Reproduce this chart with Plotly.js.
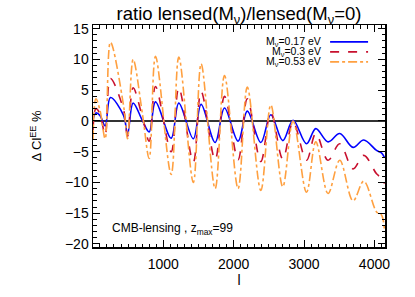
<!DOCTYPE html>
<html>
<head>
<meta charset="utf-8">
<script src="https://cdn.plot.ly/plotly-3.0.1.min.js"></script>
<style>html,body{margin:0;padding:0;background:#fff;}#chart{width:415px;height:297px;}</style>
</head>
<body>
<div id="chart"></div>
<script>
// multipole l (shared sampling at the read extrema)
const ell = [2, 43, 100, 175, 250, 436, 493, 572, 706, 800, 890, 1112, 1221, 1427, 1538, 1737, 1870, 2063, 2194, 2386, 2528, 2698, 2844, 3035, 3167, 3341, 3507, 3696, 3848, 4030, 4100, 4140];
// Delta Cl^EE % for each neutrino mass
const mnu017 = [0.2, 1.3, 0.9, -0.8, 3.8, 0.9, -2.2, 2.9, 0.0, -1.8, 3.1, -2.8, 2.9, -2.9, 2.7, -3.5, 2.1, -3.3, 1.6, -3.5, 1.0, -3.2, 0.1, -3.7, -1.25, -3.4, -2.05, -4.3, -3.1, -4.8, -5.2, -5.9];
const mnu030 = [-1.5, 2.0, 1.2, -2.3, 6.9, 1.8, -2.5, 5.4, 0.5, -3.3, 5.6, -5.0, 5.4, -6.7, 4.8, -6.3, 4.0, -6.3, 3.6, -6.6, 1.4, -6.2, -0.2, -6.4, -2.05, -6.4, -3.7, -7.8, -5.6, -8.6, -9.3, -10.2];
const mnu053 = [-3.0, 3.6, 1.8, -2.9, 12.8, 2.5, -2.9, 10.0, 1.0, -6.1, 10.5, -8.7, 10.4, -10.0, 9.3, -11.0, 7.4, -11.0, 5.5, -11.3, 2.6, -10.7, 0.0, -11.6, -3.4, -11.8, -6.4, -13.0, -9.8, -14.8, -15.3, -17.5];
const seriesNames = ['M<sub>ν</sub>=0.17 eV', 'M<sub>ν</sub>=0.3 eV', 'M<sub>ν</sub>=0.53 eV'];
const colors = ['#0000ff', '#c8102e', '#ffa040'];
const dashes = ['solid', 'dash', 'dashdot'];
const series = [mnu017, mnu030, mnu053];

const FONT = 'Liberation Sans, Arial, sans-serif';

const traces = series.map((ys, i) => ({
  x: ell, y: ys, type: 'scatter', mode: 'lines', name: seriesNames[i],
  line: {color: colors[i], dash: dashes[i], width: 1.6, shape: 'spline', smoothing: 1},
  showlegend: false, hoverinfo: 'skip'
}));

// custom legend (text left, line sample right)
const legY = [0.924, 0.879, 0.834];
const annotations = seriesNames.map((t, i) => ({
  xref: 'paper', yref: 'paper', x: 0.788, y: legY[i], xanchor: 'right', yanchor: 'middle',
  text: t, showarrow: false, font: {family: FONT, size: 10.5, color: '#000'}
}));
annotations.push({
  xref: 'paper', yref: 'paper', x: 0.058, y: 0.081, xanchor: 'left', yanchor: 'middle',
  text: 'CMB-lensing , z<sub>max</sub>=99', showarrow: false, font: {family: FONT, size: 12, color: '#000'}
});
const shapes = seriesNames.map((t, i) => ({
  type: 'line', xref: 'paper', yref: 'paper', x0: 0.812, x1: 0.942, y0: legY[i], y1: legY[i],
  line: {color: colors[i], dash: dashes[i], width: 1.6}
}));

const axisCommon = {
  showline: true, linecolor: '#000', linewidth: 1.5, mirror: 'ticks',
  ticks: 'inside', ticklen: 7, tickwidth: 1, tickcolor: '#000',
  showgrid: false, layer: 'above traces',
  tickfont: {family: FONT, size: 14, color: '#000'}
};

const layout = {
  width: 415, height: 297,
  margin: {l: 93, r: 30, t: 25, b: 50},
  paper_bgcolor: '#fff', plot_bgcolor: '#fff',
  title: {text: 'ratio lensed(M<sub>ν</sub>)/lensed(M<sub>ν</sub>=0)', font: {family: FONT, size: 18.5, color: '#000'},
          x: 0.5, xref: 'paper', y: 0.955, yref: 'container', yanchor: 'middle'},
  xaxis: Object.assign({}, axisCommon, {
    range: [2, 4150], tick0: 0, dtick: 1000, zeroline: false,
    minor: {ticks: 'inside', ticklen: 3.5, dtick: 100, tick0: 0, tickcolor: '#000', showgrid: false},
    ticklabelstandoff: 4,
    title: {text: 'l', font: {family: FONT, size: 14, color: '#000'}, standoff: 1}
  }),
  yaxis: Object.assign({}, axisCommon, {
    range: [-20.5, 15.6], tick0: 0, dtick: 5,
    zeroline: true, zerolinecolor: '#333', zerolinewidth: 2,
    minor: {ticks: 'inside', ticklen: 3.5, dtick: 1, tick0: 0, tickcolor: '#000', showgrid: false},
    title: {text: 'Δ Cl<sup>EE</sup> %', font: {family: FONT, size: 13, color: '#000'}, standoff: 20}
  }),
  annotations: annotations,
  shapes: shapes,
  showlegend: false
};

Plotly.newPlot('chart', traces, layout, {staticPlot: true, displayModeBar: false});
</script>
</body>
</html>
